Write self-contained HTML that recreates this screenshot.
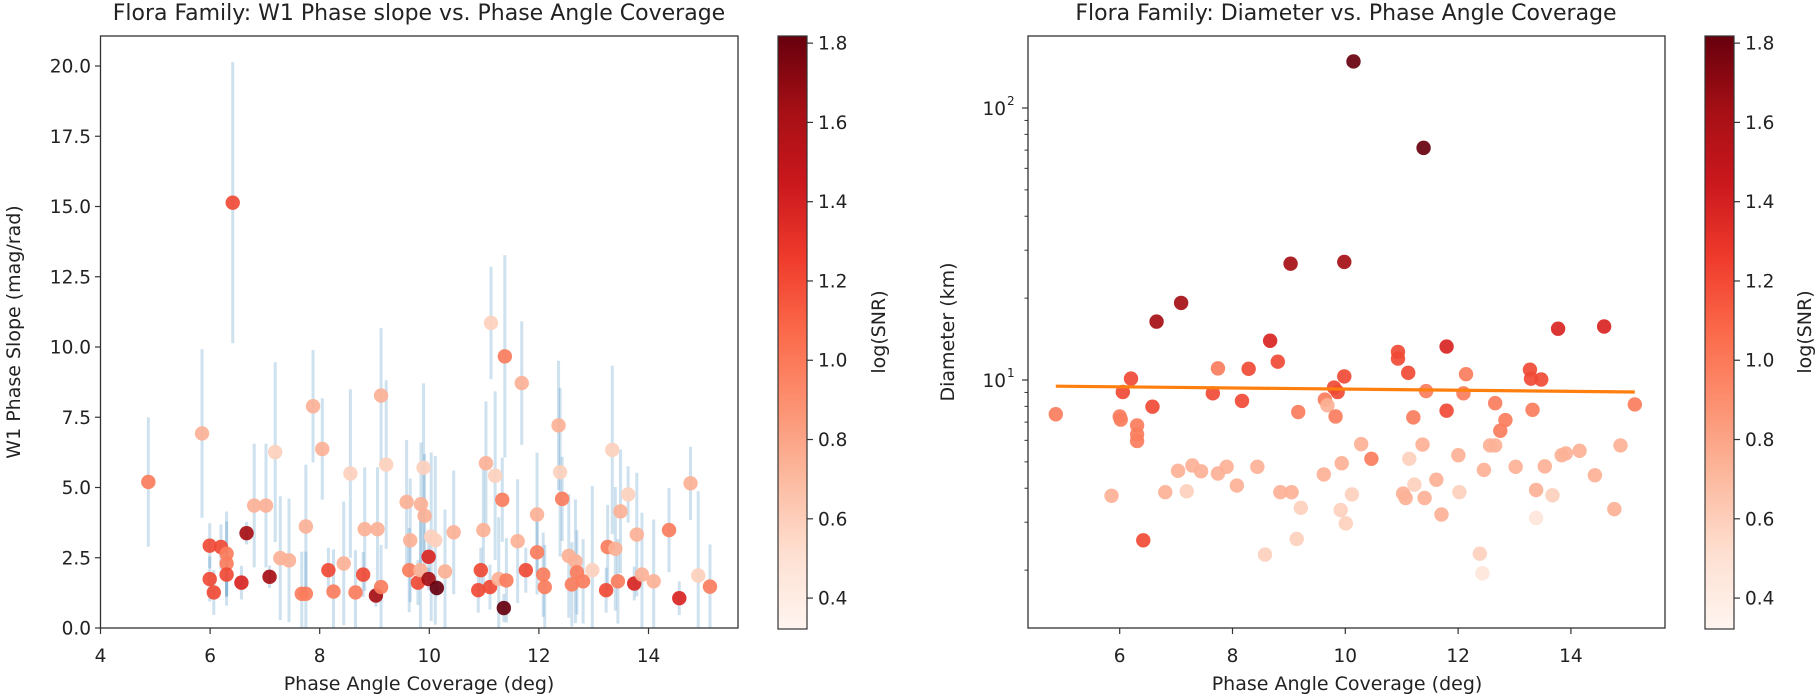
<!DOCTYPE html>
<html><head><meta charset="utf-8"><style>
html,body{margin:0;padding:0;background:#fff;}
svg{display:block;font-family:"DejaVu Sans","Liberation Sans",sans-serif;}
</style></head><body>
<svg id="s" width="1818" height="700" xmlns="http://www.w3.org/2000/svg">
<defs>
<linearGradient id="reds" x1="0" y1="1" x2="0" y2="0">
<stop offset="0" stop-color="#fff5f0"/><stop offset="0.125" stop-color="#fee0d2"/>
<stop offset="0.25" stop-color="#fcbba1"/><stop offset="0.375" stop-color="#fc9272"/>
<stop offset="0.5" stop-color="#fb6a4a"/><stop offset="0.625" stop-color="#ef3b2c"/>
<stop offset="0.75" stop-color="#cb181d"/><stop offset="0.875" stop-color="#a50f15"/>
<stop offset="1" stop-color="#67000d"/></linearGradient>
</defs>
<rect width="1818" height="700" fill="#fff"/>
<g id="g"></g>
<text x="419" y="20" font-size="22" text-anchor="middle" fill="#222">Flora Family: W1 Phase slope vs. Phase Angle Coverage</text>
<text x="1346" y="20" font-size="22" text-anchor="middle" fill="#222">Flora Family: Diameter vs. Phase Angle Coverage</text>
<text x="419" y="690" font-size="19" text-anchor="middle" fill="#222">Phase Angle Coverage (deg)</text>
<text x="1347" y="690" font-size="19" text-anchor="middle" fill="#222">Phase Angle Coverage (deg)</text>
<text transform="translate(20,332) rotate(-90)" font-size="19" text-anchor="middle" fill="#222">W1 Phase Slope (mag/rad)</text>
<text transform="translate(954,332) rotate(-90)" font-size="19" text-anchor="middle" fill="#222">Diameter (km)</text>
<text transform="translate(885,332) rotate(-90)" font-size="19" text-anchor="middle" fill="#222">log(SNR)</text>
<text transform="translate(1811,332) rotate(-90)" font-size="19" text-anchor="middle" fill="#222">log(SNR)</text>
</svg>
<script>
var NS="http://www.w3.org/2000/svg",G=document.getElementById("g");
function el(t,a,txt){var e=document.createElementNS(NS,t);for(var k in a)e.setAttribute(k,a[k]);if(txt!=null)e.textContent=txt;G.appendChild(e);return e;}
var C={vvl:"#fee5d9",vl:"#fdd0bd",l:"#fcb196",m:"#fb7d5d",o:"#f04a35",r:"#d92523",d:"#a50f15",dd:"#67000d"};
var E={vvl:3,vl:3,l:2.2,m:1.5,o:0.8,r:0.6,d:0.4,dd:0.3};
// left plot
var L=[[290,1082,"m",2.3],[395,973,"l",3],[410,1225,"o"],[410,1300,"o"],[418,1330,"o"],[432,1228,"o"],[443,1243,"m"],[443,1265,"m"],[443,1290,"o"],[455,455,"o",5],[472,1308,"r"],[482,1197,"d"],[497,1135,"l"],[520,1135,"l"],[527,1295,"d"],[538,1015,"vl",3.2],[548,1253,"l"],[565,1258,"l"],[590,1333,"m"],[598,1333,"m"],[598,1182,"l"],[612,912,"l",2],[630,1008,"l",1.8],[642,1280,"o"],[652,1328,"m"],[672,1265,"l"],[685,1063,"vl"],[695,1330,"m"],[710,1290,"o"],[713,1188,"l"],[735,1337,"d"],[738,1188,"l"],[745,1318,"m"],[745,888,"l",2.4],[755,1043,"vl"],[795,1127,"l"],[802,1213,"l"],[800,1280,"m"],[817,1308,"o"],[822,1280,"l"],[823,1132,"l"],[828,1050,"vl"],[830,1158,"l"],[838,1250,"r"],[838,1300,"d"],[843,1205,"vl"],[851,1213,"vl"],[854,1320,"dd"],[870,1283,"l"],[887,1195,"l"],[940,1280,"o"],[935,1325,"o"],[945,1190,"l"],[950,1040,"l"],[958,1318,"o"],[960,725,"vl",2],[968,1068,"vl"],[975,1300,"l"],[982,1122,"m"],[987,800,"m",3.6],[990,1303,"m"],[985,1365,"dd",0.5],[1012,1215,"l"],[1020,860,"l",2.2],[1028,1280,"o"],[1050,1155,"l"],[1050,1240,"m"],[1062,1290,"m"],[1065,1318,"m"],[1092,955,"l",2.3],[1095,1060,"vl"],[1099,1120,"m"],[1112,1248,"l"],[1118,1312,"m"],[1125,1260,"l"],[1128,1285,"m"],[1140,1305,"m"],[1158,1280,"vl"],[1188,1228,"m"],[1185,1325,"o"],[1197,1010,"vl"],[1203,1232,"l"],[1208,1305,"m"],[1213,1148,"l"],[1228,1110,"vl",1],[1240,1310,"r"],[1245,1200,"l"],[1255,1290,"l"],[1278,1305,"l"],[1308,1190,"m"],[1328,1343,"r"],[1350,1085,"l",1.3],[1365,1292,"vl"],[1388,1317,"m"]];
var R=[[461,930,"m"],[570,1113,"l"],[586,935,"m"],[588,942,"m"],[592,880,"o"],[608,850,"o"],[620,955,"m"],[620,975,"m"],[620,990,"m"],[632,1213,"o"],[650,913,"o"],[658,722,"d"],[675,1105,"l"],[700,1057,"l"],[706,680,"d"],[717,1103,"vl"],[728,1045,"l"],[745,1058,"l"],[778,1063,"l"],[795,1048,"l"],[768,883,"o"],[778,827,"m"],[815,1090,"l"],[825,900,"o"],[838,828,"o"],[855,1048,"l"],[870,1245,"vl"],[880,765,"r"],[895,812,"o"],[900,1105,"l"],[920,592,"d"],[922,1105,"l"],[935,925,"m"],[940,1140,"vl"],[932,1210,"vl"],[985,1065,"l"],[987,897,"m"],[992,910,"l"],[1008,935,"m"],[1005,870,"o"],[1012,880,"o"],[1018,1145,"vl"],[1020,1040,"l"],[1028,1175,"vl"],[1025,588,"d"],[1025,845,"o"],[1040,1110,"vl"],[1043,138,"dd"],[1058,997,"l"],[1078,1030,"m"],[1130,790,"o"],[1130,805,"o"],[1150,837,"o"],[1152,1030,"vl"],[1160,937,"m"],[1140,1108,"l"],[1145,1118,"l"],[1162,1088,"vl"],[1178,998,"l"],[1180,332,"dd"],[1182,1118,"l"],[1185,878,"m"],[1205,1077,"l"],[1215,1155,"l"],[1225,922,"o"],[1225,778,"r"],[1248,1022,"l"],[1250,1105,"vl"],[1258,883,"m"],[1263,840,"m"],[1290,1243,"vl"],[1295,1287,"vvl"],[1298,1055,"l"],[1310,1000,"l"],[1320,1000,"l"],[1320,905,"m"],[1330,967,"m"],[1340,943,"m"],[1360,1048,"l"],[1388,830,"o"],[1390,850,"o"],[1393,920,"m"],[1400,1100,"l"],[1400,1163,"vvl"],[1410,852,"o"],[1417,1047,"l"],[1432,1112,"vl"],[1443,738,"r"],[1450,1022,"l"],[1458,1018,"l"],[1485,1012,"l"],[1515,1067,"l"],[1533,733,"r"],[1565,1000,"l"],[1553,1143,"l"],[1593,908,"m"]];
// error bars
L.forEach(function(p){var x=p[0]*0.5115,y=p[1]/2.245,e=(p[3]||E[p[2]])*28.1;
 el("line",{x1:x,x2:x,y1:Math.max(36,y-e),y2:Math.min(628,y+e),stroke:"#1f77b4","stroke-opacity":"0.22","stroke-width":"3"});});
L.forEach(function(p){el("circle",{cx:p[0]*0.5115,cy:p[1]/2.245,r:7.2,fill:C[p[2]],"fill-opacity":"0.92"});});
R.forEach(function(p){el("circle",{cx:820+p[0]*0.5115,cy:p[1]/2.245,r:7.2,fill:C[p[2]],"fill-opacity":"0.92"});});
el("line",{x1:820+461*0.5115,y1:867/2.245,x2:820+1593*0.5115,y2:880/2.245,stroke:"#ff7f0e","stroke-width":"3.2"});
// axes frames
el("rect",{x:100.5,y:36,width:637.5,height:592,fill:"none",stroke:"#333","stroke-width":"1.3"});
el("rect",{x:1028,y:36,width:637,height:592,fill:"none",stroke:"#333","stroke-width":"1.3"});
// left ticks
for(var v=0;v<=20;v+=2.5){var y=628-28.1*v;el("line",{x1:95,x2:100.5,y1:y,y2:y,stroke:"#333","stroke-width":"1.2"});
 el("text",{x:91,y:y+6.5,"font-size":"18.5","text-anchor":"end",fill:"#222"},v.toFixed(1));}
for(var v=4;v<=14;v+=2){var x=100.5+54.8*(v-4);el("line",{x1:x,x2:x,y1:628,y2:634,stroke:"#333","stroke-width":"1.2"});
 el("text",{x:x,y:662,"font-size":"18.5","text-anchor":"middle",fill:"#222"},v);}
// right ticks
for(var v=6;v<=14;v+=2){var x=1119.7+56.4*(v-6);el("line",{x1:x,x2:x,y1:628,y2:634,stroke:"#333","stroke-width":"1.2"});
 el("text",{x:x,y:662,"font-size":"18.5","text-anchor":"middle",fill:"#222"},v);}
function ry(v){return 380-272*(Math.log10(v)-1);}
[10,100].forEach(function(v){var y=ry(v);el("line",{x1:1022,x2:1028,y1:y,y2:y,stroke:"#333","stroke-width":"1.2"});
 var t=el("text",{x:1006,y:y+7,"font-size":"18.5","text-anchor":"end",fill:"#222"},"10");
 el("text",{x:1007,y:y-3,"font-size":"12",fill:"#222"},v==10?"1":"2");});
[2,3,4,5,6,7,8,9,20,30,40,50,60,70,80,90].forEach(function(v){var y=ry(v);if(y<629&&y>36)el("line",{x1:1024.5,x2:1028,y1:y,y2:y,stroke:"#333","stroke-width":"1"});});
// colorbars
[778,1705].forEach(function(cx){el("rect",{x:cx,y:36,width:29,height:593,fill:"url(#reds)",stroke:"#333","stroke-width":"1.2"});
 [0.4,0.6,0.8,1.0,1.2,1.4,1.6,1.8].forEach(function(t){var y=629-(t-0.322)/(1.818-0.322)*593;
  el("line",{x1:cx+29,x2:cx+35,y1:y,y2:y,stroke:"#333","stroke-width":"1.2"});
  el("text",{x:cx+40,y:y+6.5,"font-size":"18.5",fill:"#222"},t.toFixed(1));});});
</script>
</body></html>
